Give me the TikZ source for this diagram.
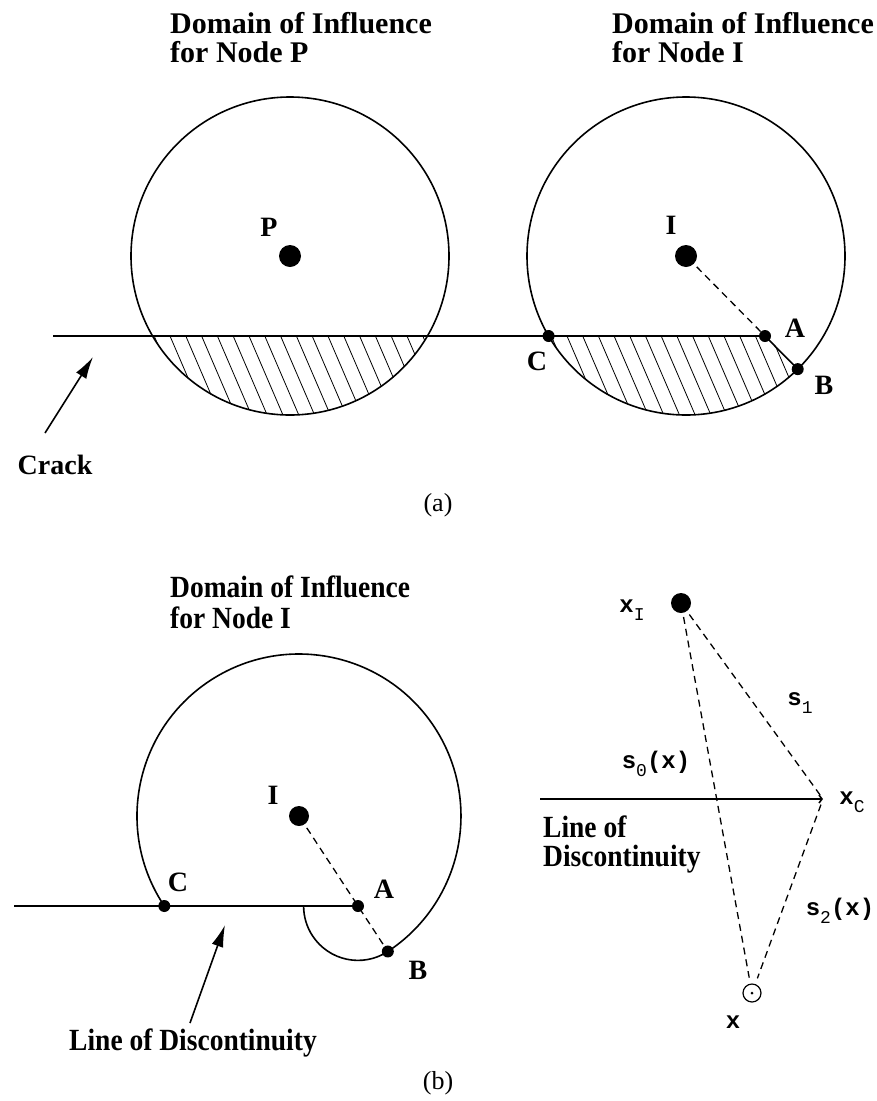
\documentclass[tikz,border=0pt]{standalone}
\usepackage{fontspec}
\usepackage{graphicx}
\setmainfont{Liberation Serif}
\newfontfamily\courfont{Liberation Mono}
\usetikzlibrary{arrows.meta,calc}
\newcommand{\msub}[1]{\raisebox{-8pt}{\fontsize{18}{18}\selectfont\mdseries #1}}
\newcommand{\tallt}[1]{\scalebox{1}[1.12]{#1}}
\tikzset{
  lbl/.style={font=\fontsize{28}{28}\selectfont\bfseries, inner sep=0pt},
  ttl/.style={font=\fontsize{30}{29}\selectfont\bfseries, align=left, anchor=north west, inner sep=0pt},
  ttlb/.style={font=\fontsize{27.5}{31}\selectfont\bfseries, align=left, anchor=north west, inner sep=0pt},
  capt/.style={font=\fontsize{26}{26}\selectfont, inner sep=0pt},
  mono/.style={font=\fontsize{24}{24}\selectfont\courfont\bfseries, inner sep=0pt},
  bigdot/.style={circle, fill=black, inner sep=0pt, minimum size=22pt},
  smalldot/.style={circle, fill=black, inner sep=0pt, minimum size=12pt},
  opendot/.style={circle, draw=black, line width=1.2pt, inner sep=0pt, minimum size=18pt},
  edge/.style={line width=1.6pt},
  dsh/.style={line width=1.3pt, dash pattern=on 7pt off 5pt},
  hatch/.style={line width=0.8pt},
  ptr/.style={line width=1.6pt, -{Latex[length=22pt,width=12pt]}},
}
\begin{document}
\begin{tikzpicture}[x=1pt,y=1pt]
\useasboundingbox (0,0) rectangle (877,-1101);

% ---------------- (a) ----------------
\coordinate (Pc) at (290,-256);
\coordinate (Ic) at (686,-256);
\coordinate (C) at (548.59,-336);
\coordinate (A) at (765,-336);
\coordinate (B) at ($(Ic)+(-45.36:159)$);
\coordinate (crackstart) at (53,-336);

% hatching
\begin{scope}
  \clip (Pc) circle[radius=159];
  \clip (100,-336) rectangle (480,-430);
  \foreach \k in {-3,...,18} \draw[hatch] ({170+15.8*\k},-336) -- ++(43,-100);
\end{scope}
\begin{scope}
  \clip (C) -- (A) -- (B) arc[start angle=-45.36, end angle=-149.79, radius=159] -- cycle;
  \foreach \k in {-3,...,18} \draw[hatch] ({567+15.7*\k},-336) -- ++(43,-100);
\end{scope}

\draw[edge] (Pc) circle[radius=159];
\draw[edge] (Ic) circle[radius=159];
\draw[edge] (crackstart) -- (C) -- (A) -- (B);

\node[bigdot] (Pd) at (Pc) {};
\node[bigdot] (Id) at (Ic) {};
\node[smalldot] (Cd) at (C) {};
\node[smalldot] (Ad) at (A) {};
\node[smalldot] (Bd) at (B) {};
\draw[dsh, shorten <=4pt] (Id) -- (Ad);

\node[ttl] (tP) at (170,-12.5) {Domain of Influence\\for Node P};
\node[ttl] (tI) at (612,-12.5) {Domain of Influence\\for Node I};
\node[lbl] (lP) at (269,-227) {P};
\node[lbl] (lI) at (671,-225) {I};
\node[lbl] (lC) at (537,-361) {C};
\node[lbl] (lA) at (795,-328) {A};
\node[lbl] (lB) at (824,-385) {B};
\node[lbl] (crack) at (55,-465) {Crack};
\coordinate (crtail) at (45,-433);
\coordinate (crtip) at (93,-357);
\draw[ptr] (crtail) -- (crtip);
\node[capt] (capa) at (438,-505) {(a)};

% ---------------- (b) left ----------------
\coordinate (I2) at (299,-816);
\coordinate (C2) at (164.30,-906);
\coordinate (A2) at (358,-906);
\coordinate (B2) at ($(I2)+(-56.75:162)$);
\coordinate (lstart) at (14,-906);

\draw[edge] (C2) arc[start angle=213.75, end angle=-56.75, radius=162]
               arc[start angle=-56.75, end angle=-180, radius=54.38];
\draw[edge] (lstart) -- (C2) -- (A2);

\node[bigdot, minimum size=20pt] (I2d) at (I2) {};
\node[smalldot] (C2d) at (C2) {};
\node[smalldot] (A2d) at (A2) {};
\node[smalldot] (B2d) at (B2) {};
\draw[dsh, shorten <=4pt] (I2d) -- (B2d);

\node[ttlb] (tI2) at (170,-576) {\tallt{Domain of Influence}\\\tallt{for Node I}};
\node[lbl] (lI2) at (273,-795) {I};
\node[lbl] (lC2) at (178,-882) {C};
\node[lbl] (lA2) at (384,-889) {A};
\node[lbl] (lB2) at (418,-970) {B};
\node[lbl, font=\fontsize{27.5}{28}\selectfont\bfseries] (lod) at (193,-1043) {\tallt{Line of Discontinuity}};
\coordinate (ldtail) at (190,-1023);
\coordinate (ldtip) at (225,-925);
\draw[ptr] (ldtail) -- (ldtip);
\node[capt] (capb) at (438,-1083) {(b)};

% ---------------- (b) right ----------------
\coordinate (xI) at (681,-603);
\coordinate (xC) at (823,-799);
\coordinate (xp) at (752,-993);
\coordinate (rlstart) at (540,-799);

\draw[line width=1.6pt, -{Straight Barb[length=3pt,width=8pt]}] (rlstart) -- (xC);
\node[bigdot, minimum size=20pt] (xId) at (xI) {};
\node[opendot] (xpd) at (xp) {};
\fill (xp) circle[radius=1.5];
\draw[dsh, shorten <=4pt, shorten >=5pt] (xId) -- (xC);
\draw[dsh, shorten <=6pt, shorten >=6pt] (xC) -- (xpd);
\draw[dsh, shorten <=4pt, shorten >=6pt] (xId) -- (xpd);

\node[mono] (lxI) at (632,-610) {x\msub{I}};
\node[mono] (ls1) at (800,-703) {s\msub{1}};
\node[mono] (ls0) at (656,-764) {s\msub{0}(x)};
\node[mono] (lxC) at (852,-802) {x\msub{C}};
\node[ttlb, font=\fontsize{27.5}{28.5}\selectfont\bfseries] (lod2) at (543,-816) {\tallt{Line of}\\\tallt{Discontinuity}};
\node[mono] (ls2) at (840,-911) {s\msub{2}(x)};
\node[mono] (lx) at (733,-1022) {x};
\end{tikzpicture}
\end{document}
